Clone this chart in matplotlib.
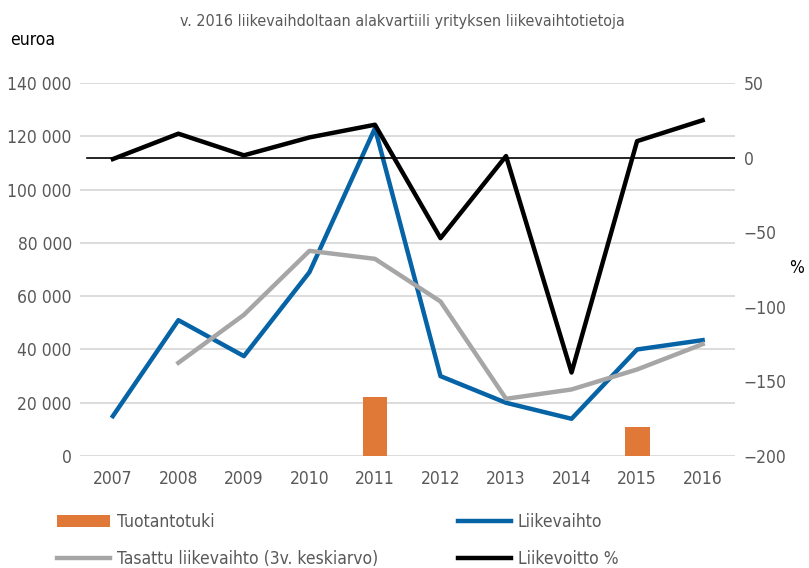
import matplotlib.pyplot as plt
import numpy as np

# chart data
years = ['2007', '2008', '2009', '2010', '2011', '2012', '2013', '2014', '2015', '2016']
liikevaihto = [15000, 51000, 37500, 69000, 123000, 30000, 20000, 14000, 40000, 43500]
tasattu = [None, 35000, 53000, 77000, 74000, 58000, 21500, 25000, 32500, 42000]
tuotantotuki = [0, 0, 0, 0, 22000, 0, 0, 0, 11000, 0]
liikevoitto_pct = [-1, 16, 1.5, 13.5, 22, -54, 1, -144, 11, 25]

plt.rcParams['font.family'] = ['DejaVu Sans']
plt.rcParams['font.stretch'] = 'condensed'

tick_col = '#595959'
x = np.arange(len(years))

fig = plt.figure(figsize=(8.09, 5.68), dpi=100)
ax = fig.add_axes([0.099, 0.197, 0.81, 0.657])
ax2 = ax.twinx()

ax.set_ylim(0, 140000)
ax.set_xlim(-0.5, len(years) - 0.5)
ax.set_yticks(range(0, 140001, 20000))
ax.set_yticklabels([f'{v:,}'.replace(',', ' ') for v in range(0, 140001, 20000)])
ax.grid(axis='y', color='#d9d9d9', linewidth=1.3)
ax.set_axisbelow(True)

ax.bar(x, tuotantotuki, width=0.38, color='#e07838', label='Tuotantotuki', zorder=2)
ax.plot(x, liikevaihto, color='#0563a6', linewidth=3.2, label='Liikevaihto', zorder=3)
tas = np.array([np.nan if v is None else v for v in tasattu], dtype=float)
ax.plot(x, tas, color='#a6a6a6', linewidth=3.2, label='Tasattu liikevaihto (3v. keskiarvo)', zorder=3)

ax2.set_ylim(-200, 50)
ax2.set_yticks(range(-200, 51, 50))
ax2.set_yticklabels([str(v).replace('-', '\u2212') if v < 0 else str(v) for v in range(-200, 51, 50)])
ax2.axhline(0, color='black', linewidth=1.2, xmin=0.01, xmax=1.0)
ax2.plot(x, liikevoitto_pct, color='black', linewidth=3.2, label='Liikevoitto %', zorder=4)

ax.set_xticks(x)
ax.set_xticklabels(years)
for a in (ax, ax2):
    for s in a.spines.values():
        s.set_visible(False)
    a.tick_params(length=0, labelsize=12.5, colors=tick_col, pad=6)
ax.tick_params(axis='x', pad=10)

fig.text(0.497, 0.962, 'v. 2016 liikevaihdoltaan alakvartiili yrityksen liikevaihtotietoja',
         ha='center', va='center', fontsize=11.5, color=tick_col)
fig.text(0.012, 0.93, 'euroa', ha='left', va='center', fontsize=12.5, color='black')
fig.text(0.985, 0.528, '%', ha='center', va='center', fontsize=12.5, color='black')

h1, l1 = ax.get_legend_handles_labels()
h2, l2 = ax2.get_legend_handles_labels()
hd = dict(zip(l1 + l2, h1 + h2))
order = ['Tuotantotuki', 'Tasattu liikevaihto (3v. keskiarvo)', 'Liikevaihto', 'Liikevoitto %']
fig.legend([hd[k] for k in order], order, ncol=2, loc='upper left', bbox_to_anchor=(0.07, 0.097),
           frameon=False, fontsize=12.5, labelcolor=tick_col, handlelength=3.1,
           handletextpad=0.35, columnspacing=4.6, labelspacing=1.1, borderaxespad=0,
           borderpad=0)

fig.savefig('out.png', dpi=100)
